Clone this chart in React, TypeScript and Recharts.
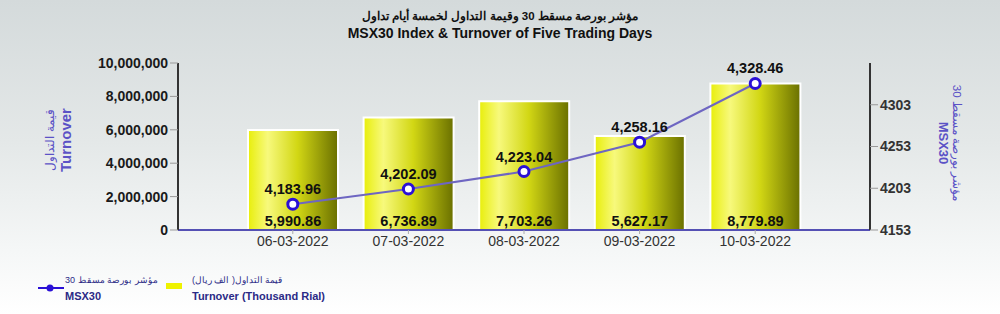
import { Bar, ComposedChart, LabelList, Line, XAxis, YAxis } from "recharts"

const dates = ["06-03-2022", "07-03-2022", "08-03-2022", "09-03-2022", "10-03-2022"]
const turnover = [5990.86, 6736.89, 7703.26, 5627.17, 8779.89]
const msx30 = [4183.96, 4202.09, 4223.04, 4258.16, 4328.46]
const leftTicks = [0, 2000, 4000, 6000, 8000, 10000]
const rightTicks = [4153, 4203, 4253, 4303]

const data = dates.map((d, i) => ({ date: d, turnover: turnover[i], msx30: msx30[i] }))

const fmt2 = (v: number) =>
  Number(v).toLocaleString("en-US", { minimumFractionDigits: 2, maximumFractionDigits: 2 })

const font = "'Liberation Sans', Arial, sans-serif"
const navy = "#2b2a86"
const purple = "#5b52c6"

export default function App() {
  return (
    <div
      style={{
        position: "absolute",
        left: 0,
        top: 0,
        width: 1000,
        height: 314,
        fontFamily: font,
        background: "linear-gradient(180deg, #d4dadb 0%, #e4e8e8 45%, #f5f7f7 80%, #ffffff 100%)",
        overflow: "hidden",
      }}
    >
      <div style={{ position: "absolute", top: 8, width: 1000, textAlign: "center", fontWeight: "bold", color: "#111", lineHeight: "17px" }}>
        <div dir="rtl" style={{ fontSize: 11.5 }}>مؤشر بورصة مسقط 30 وقيمة التداول لخمسة أيام تداول</div>
        <div style={{ fontSize: 14 }}>MSX30 Index &amp; Turnover of Five Trading Days</div>
      </div>

      <ComposedChart
        width={1000}
        height={314}
        data={data}
        margin={{ top: 63, right: 0, bottom: 54, left: 0 }}
        style={{ position: "absolute", left: 0, top: 0 }}
      >
        <defs>
          <linearGradient id="barFill" x1="0" y1="0" x2="1" y2="0">
            <stop offset="0%" stopColor="#e8ee0a" />
            <stop offset="22%" stopColor="#f7f97c" />
            <stop offset="55%" stopColor="#d2d714" />
            <stop offset="100%" stopColor="#6a7000" />
          </linearGradient>
        </defs>
        <XAxis
          dataKey="date"
          padding={{ left: 57, right: 57 }}
          height={30}
          axisLine={{ stroke: "#5450b4", strokeWidth: 2 }}
          tickLine={{ stroke: "#aaa" }}
          tickSize={4}
          tick={{ fill: "#333", fontSize: 14, fontFamily: font }}
        />
        <YAxis
          yAxisId="left"
          width={178}
          domain={[0, 10000]}
          ticks={leftTicks}
          interval={0}
          tickFormatter={(v: number) => (v * 1000).toLocaleString("en-US")}
          axisLine={{ stroke: "#333", strokeWidth: 2 }}
          tickLine={{ stroke: "#999" }}
          tickSize={8}
          tick={{ fill: "#1a1a1a", fontSize: 14, fontWeight: "bold", fontFamily: font }}
        />
        <YAxis
          yAxisId="right"
          orientation="right"
          width={130}
          domain={[4153, 4353]}
          ticks={rightTicks}
          interval={0}
          axisLine={{ stroke: "#333", strokeWidth: 2 }}
          tickLine={{ stroke: "#999" }}
          tickSize={8}
          tick={{ fill: "#333", fontSize: 14, fontWeight: "bold", fontFamily: font }}
        />
        <Bar
          yAxisId="left"
          dataKey="turnover"
          barSize={90}
          fill="url(#barFill)"
          stroke="#ffffff"
          strokeWidth={2}
          isAnimationActive={false}
        >
          <LabelList
            dataKey="turnover"
            position="insideBottom"
            offset={4}
            formatter={(v: number) => fmt2(v)}
            style={{ fill: "#111", fontSize: 14.5, fontWeight: "bold", fontFamily: font }}
          />
        </Bar>
        <Line
          yAxisId="right"
          dataKey="msx30"
          stroke="#6e66c2"
          strokeWidth={2}
          dot={{ r: 5, fill: "#ffffff", stroke: "#2a10d6", strokeWidth: 3 }}
          isAnimationActive={false}
        >
          <LabelList
            dataKey="msx30"
            position="top"
            offset={10}
            formatter={(v: number) => fmt2(v)}
            style={{ fill: "#111", fontSize: 14.5, fontWeight: "bold", fontFamily: font }}
          />
        </Line>
      </ComposedChart>

      <div
        style={{
          position: "absolute",
          left: 58,
          top: 140,
          transform: "translate(-50%, -50%) rotate(-90deg)",
          textAlign: "center",
          color: purple,
          whiteSpace: "nowrap",
          lineHeight: "16px",
        }}
      >
        <div dir="rtl" style={{ fontSize: 12 }}>قيمة التداول</div>
        <div style={{ fontSize: 15, fontWeight: "bold" }}>Turnover</div>
      </div>

      <div
        style={{
          position: "absolute",
          left: 950,
          top: 143,
          transform: "translate(-50%, -50%) rotate(90deg)",
          textAlign: "center",
          color: purple,
          whiteSpace: "nowrap",
          lineHeight: "14px",
        }}
      >
        <div dir="rtl" style={{ fontSize: 11.5 }}>مؤشر بورصة مسقط 30</div>
        <div style={{ fontSize: 13, fontWeight: "bold" }}>MSX30</div>
      </div>

      <div style={{ position: "absolute", left: 38, top: 272, color: navy, fontSize: 11, fontWeight: "bold", lineHeight: "16px" }}>
        <svg width={26} height={12} style={{ position: "absolute", left: 0, top: 10 }}>
          <line x1={0} y1={6} x2={26} y2={6} stroke="#2a10d6" strokeWidth={2} />
          <circle cx={12} cy={6} r={3.5} fill="#2a10d6" />
        </svg>
        <div style={{ position: "absolute", left: 27, top: 0, whiteSpace: "nowrap" }}>
          <div dir="rtl" style={{ fontSize: 9, fontWeight: "normal" }}>مؤشر بورصة مسقط 30</div>
          <div>MSX30</div>
        </div>
        <svg width={16} height={8} style={{ position: "absolute", left: 128, top: 11 }}>
          <rect x={0} y={0} width={16} height={6} fill="#eef200" />
        </svg>
        <div style={{ position: "absolute", left: 154, top: 0, whiteSpace: "nowrap" }}>
          <div style={{ fontSize: 9, fontWeight: "normal" }}>قيمة التداول( الف ريال)</div>
          <div>Turnover (Thousand Rial)</div>
        </div>
      </div>
    </div>
  )
}
